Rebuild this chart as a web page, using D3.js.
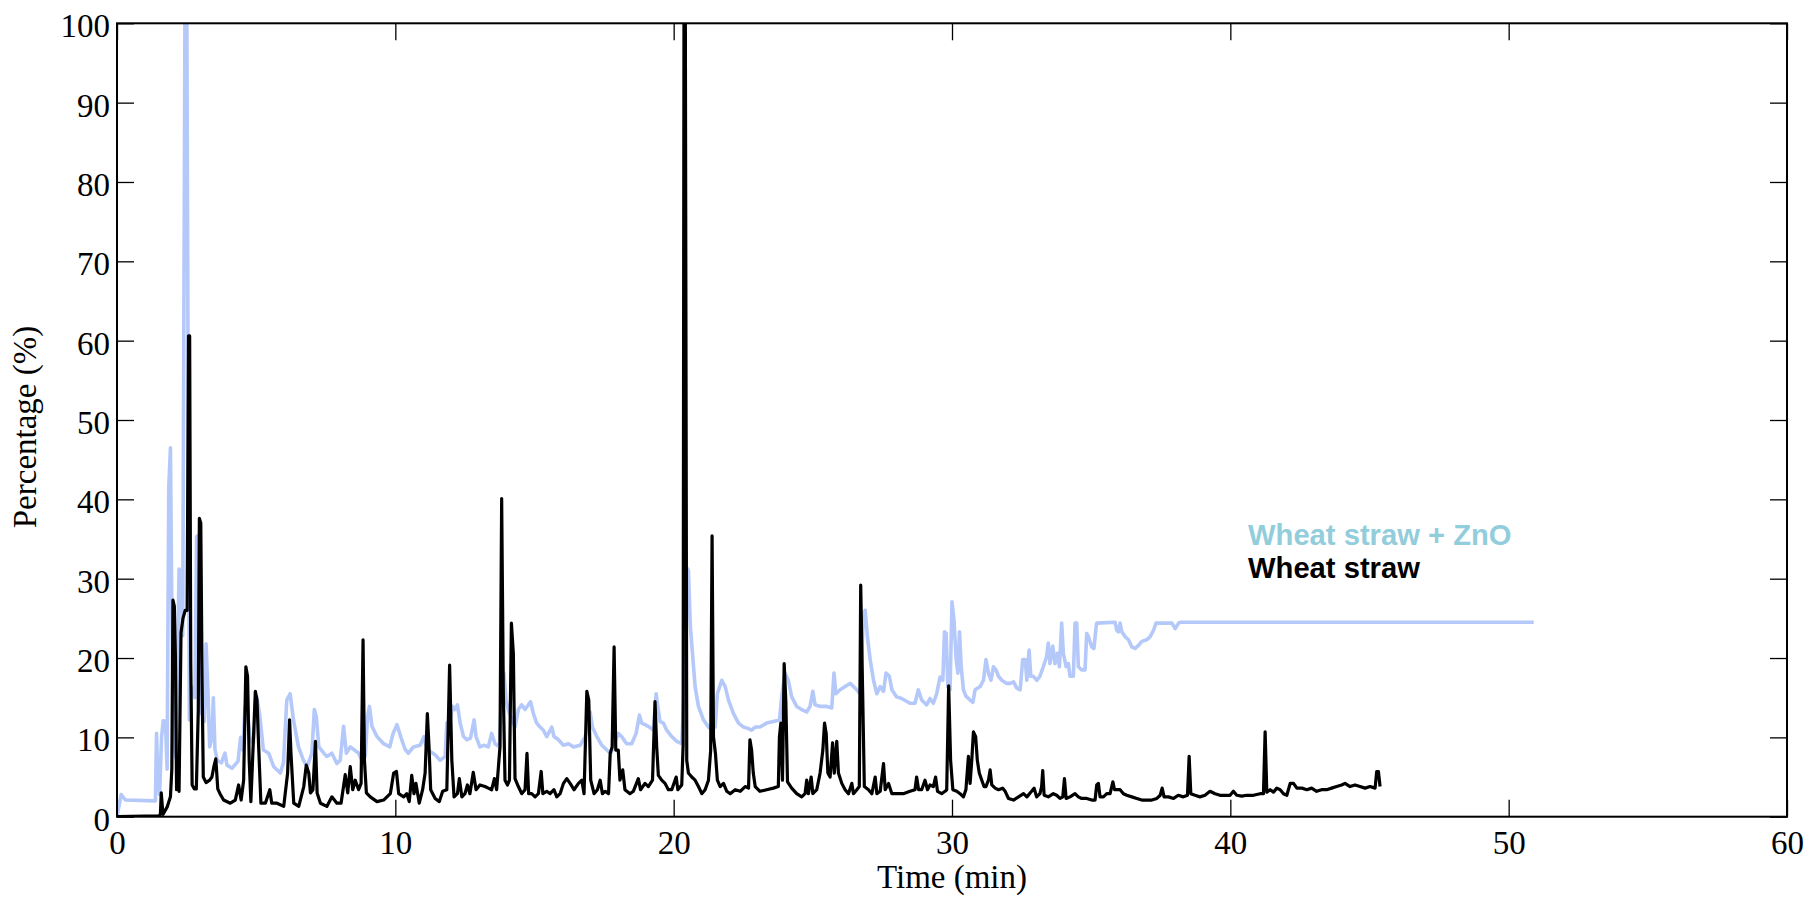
<!DOCTYPE html>
<html>
<head>
<meta charset="utf-8">
<script src="https://cdn.jsdelivr.net/npm/d3@7"></script>
<style>
  html, body { margin: 0; padding: 0; background: #fff; }
  svg { display: block; }
</style>
</head>
<body>
<svg id="chart" width="1811" height="900"></svg>
<script>
// Axis ticks
const xTicks = [0, 10, 20, 30, 40, 50, 60];
const yTicks = [0, 10, 20, 30, 40, 50, 60, 70, 80, 90, 100];

// Series labels
const seriesNames = ["Wheat straw + ZnO", "Wheat straw"];

// [time (min), percentage (%)] — Wheat straw + ZnO
const wheatStrawZnO = [
  [0,0],[0.15,2.8],[0.3,2.1],[1.38,2.0],[1.42,10.5],[1.47,4.5],[1.53,2.8],[1.6,10],[1.66,12.1],[1.74,12.0],
  [1.8,6],[1.86,41.5],[1.92,46.5],[1.97,26],[2.04,9.4],[2.12,7.4],[2.18,20],[2.23,31.2],[2.3,30.8],[2.36,22.8],
  [2.40,60],[2.44,100],[2.51,100],[2.55,60],[2.6,12.2],[2.66,16],[2.74,16.3],[2.8,15],[2.86,35.3],[2.93,35.5],
  [2.98,16],[3.03,13],[3.08,16.5],[3.14,12],[3.2,21.8],[3.27,15.5],[3.33,8.8],[3.41,10],[3.46,15],[3.52,8.5],
  [3.6,7.1],[3.75,6.8],[3.88,8],[3.95,6.5],[4.13,6.1],[4.35,7],[4.44,10],[4.52,8.4],[4.6,13.9],[4.7,12.5],
  [4.79,9.7],[4.9,9.2],[5.02,15.1],[5.12,13],[5.26,8.4],[5.45,8],[5.63,6.3],[5.87,5.5],[5.98,6.8],[6.1,14.7],
  [6.22,15.5],[6.34,12.2],[6.52,8.8],[6.7,7.1],[6.83,6.3],[7.0,8],[7.09,13.5],[7.16,12.6],[7.25,8.8],[7.43,8],
  [7.54,7.6],[7.72,8],[7.9,6.7],[8.02,7.1],[8.14,11.4],[8.24,8],[8.38,8.8],[8.53,8.4],[8.68,8],[8.8,7.1],
  [8.92,7.6],[9.0,12.6],[9.07,13.9],[9.16,11.4],[9.34,10.1],[9.58,9.2],[9.8,8.8],[9.92,10.5],[10.06,11.6],[10.2,10],
  [10.35,8.5],[10.47,8],[10.65,8.8],[10.89,9],[11.03,10.1],[11.1,9],[11.25,8.2],[11.43,7.8],[11.61,7.1],[11.79,7.6],
  [11.85,11.8],[11.97,12.2],[12.06,13.9],[12.14,13.5],[12.23,14.1],[12.33,11.8],[12.45,10.1],[12.57,9.7],[12.7,9.9],[12.83,12.2],
  [12.9,10.1],[13.04,8.8],[13.2,9.0],[13.34,8.8],[13.46,10.5],[13.58,9.2],[13.74,8.8],[13.82,16],[13.9,18.1],[13.98,14.7],
  [14.06,13.5],[14.18,12.2],[14.3,11.3],[14.42,13.5],[14.54,14.1],[14.66,13.5],[14.78,14.1],[14.86,14.5],[14.96,13],[15.08,11.8],
  [15.2,11.3],[15.32,10.9],[15.44,10.1],[15.62,11.3],[15.7,10.1],[15.86,9.7],[16.04,9.0],[16.22,9.2],[16.4,8.8],[16.64,9.0],
  [16.82,10.1],[16.9,11.3],[17.0,13.2],[17.08,11.3],[17.24,10.1],[17.42,9.0],[17.6,8.4],[17.74,8],[17.9,9.5],[18.01,10.5],
  [18.13,10.1],[18.31,9.2],[18.49,9.2],[18.65,10.5],[18.77,12.8],[18.85,11.8],[18.97,11.6],[19.13,11.3],[19.27,10.9],[19.37,15.5],
  [19.43,13.9],[19.51,12],[19.63,11.8],[19.75,10.9],[19.93,10.1],[20.11,9.5],[20.29,9.2],[20.37,15.6],[20.45,31.5],[20.53,31],
  [20.6,24],[20.67,20.8],[20.77,16.4],[20.89,13.9],[21.07,12.2],[21.25,11.3],[21.37,10.9],[21.49,11.3],[21.57,15.5],[21.73,17.2],
  [21.85,16.4],[21.97,14.7],[22.15,13],[22.33,11.8],[22.51,11.3],[22.69,11.1],[22.8,10.9],[22.93,11.3],[23.1,11.3],[23.34,11.8],
  [23.58,12],[23.8,12.2],[23.88,15.1],[24.0,18.1],[24.12,17.2],[24.24,15.1],[24.42,13.9],[24.6,13.5],[24.78,13.2],[24.9,13.9],
  [25.0,15.8],[25.08,14.1],[25.26,13.9],[25.5,13.9],[25.68,13.7],[25.76,18.1],[25.83,15.5],[25.98,16],[26.16,16.4],[26.34,16.8],
  [26.52,16.2],[26.7,15.5],[26.82,25.6],[26.88,26],[26.96,22.7],[27.06,19.8],[27.18,17.2],[27.3,15.5],[27.42,16.4],[27.54,15.8],
  [27.63,18.1],[27.75,17.7],[27.84,16],[28.01,15.1],[28.19,14.9],[28.49,14.3],[28.67,14.3],[28.79,16],[28.91,14.7],[29.09,14.1],
  [29.21,14.9],[29.33,14.3],[29.45,15.5],[29.57,17.6],[29.67,17.2],[29.73,23.3],[29.79,23.1],[29.85,16.4],[29.93,16],[30.0,27.1],
  [30.07,24.8],[30.15,19.8],[30.21,18.1],[30.27,23.3],[30.33,18.9],[30.41,16],[30.5,15.2],[30.65,14.7],[30.75,14.4],[30.83,16],
  [31.01,16.4],[31.13,17.2],[31.22,19.8],[31.31,18.1],[31.4,17.2],[31.49,18.9],[31.58,18.5],[31.67,17.7],[31.79,17.2],[31.97,16.8],
  [32.09,16.8],[32.21,17],[32.33,16.2],[32.45,16],[32.54,19.8],[32.63,19.8],[32.69,17.2],[32.77,21],[32.83,17.7],[32.92,17.7],
  [33.05,17.2],[33.16,17.7],[33.28,18.9],[33.4,20.2],[33.46,21.9],[33.52,19.3],[33.62,21.5],[33.7,19.3],[33.79,20.6],[33.86,18.9],
  [33.94,24.4],[34.0,20.6],[34.1,18.9],[34.18,19.3],[34.24,17.7],[34.36,17.7],[34.42,24.4],[34.48,24.4],[34.54,18.9],[34.66,18.5],
  [34.78,18.5],[34.84,23.1],[34.9,22.7],[35.02,21.4],[35.1,21.2],[35.18,24],[35.2,24.4],[35.86,24.5],[35.92,23.5],[35.98,23.3],
  [36.04,24.4],[36.1,23.3],[36.22,22.7],[36.34,22.3],[36.46,21.4],[36.58,21.2],[36.7,21.6],[36.82,22.1],[37.0,22.3],[37.12,22.7],
  [37.24,23.5],[37.33,24.4],[37.9,24.4],[38.02,23.7],[38.14,24.4],[38.2,24.5],[50.9,24.5]
];

// [time (min), percentage (%)] — Wheat straw
const wheatStraw = [
  [0,0],[1.5,0.1],[1.56,0.3],[1.59,3],[1.65,0.3],[1.8,1.2],[1.92,2.5],[1.97,6],[2.01,27.3],[2.06,26.5],
  [2.1,20],[2.14,3.4],[2.18,5.5],[2.23,3.2],[2.3,23.2],[2.37,25],[2.45,26],[2.52,26],[2.57,60.6],
  [2.61,60.6],[2.65,19.4],[2.7,4.0],[2.78,3.5],[2.85,3.5],[2.92,13.4],[2.96,37.6],[3.01,37],[3.06,16],[3.1,5],
  [3.2,4.3],[3.33,4.6],[3.41,5],[3.48,6.3],[3.55,7.3],[3.62,3.5],[3.7,2.9],[3.83,2.1],[4.07,1.7],[4.25,2.1],
  [4.37,4.0],[4.46,2.1],[4.55,4.6],[4.63,18.9],[4.69,17.7],[4.75,7.1],[4.81,1.9],[4.91,10.5],[4.97,15.8],[5.03,14.7],
  [5.09,8.8],[5.17,1.7],[5.33,1.7],[5.49,3.4],[5.56,1.7],[5.75,1.7],[5.99,1.3],[6.13,5.5],[6.2,12.2],[6.25,8],
  [6.35,1.7],[6.53,1.3],[6.71,3.8],[6.8,6.5],[6.89,5.5],[6.95,3],[7.04,3.4],[7.13,9.5],[7.19,3],[7.31,1.7],
  [7.54,1.3],[7.72,2.5],[7.9,1.7],[8.05,1.7],[8.2,5.3],[8.29,3],[8.38,6.3],[8.47,3.4],[8.56,4.6],[8.68,3.4],
  [8.77,4.2],[8.84,22.3],[8.89,7.1],[8.96,3],[9.1,2.5],[9.34,1.9],[9.58,2.1],[9.82,2.9],[9.94,5.5],[10.04,5.7],
  [10.12,2.9],[10.3,2.5],[10.41,2.9],[10.5,1.9],[10.59,5.2],[10.67,2.9],[10.74,4.2],[10.86,1.7],[10.98,3.4],[11.07,5.5],
  [11.15,13],[11.21,8.8],[11.27,3.4],[11.43,2.3],[11.58,1.9],[11.7,3.2],[11.85,3.4],[11.95,19.1],[12.03,7.1],[12.11,2.5],
  [12.23,2.9],[12.3,4.8],[12.39,2.5],[12.5,2.9],[12.59,4],[12.68,2.9],[12.8,5.6],[12.9,3.4],[13.04,4],[13.22,3.8],
  [13.34,3.6],[13.46,3.4],[13.56,4.8],[13.64,3.4],[13.76,8.8],[13.82,40.1],[13.88,15.6],[13.94,4.6],[14.03,4],[14.1,4.6],
  [14.17,24.4],[14.24,20.6],[14.3,4.8],[14.42,3.8],[14.54,2.9],[14.66,3.4],[14.73,8],[14.79,2.9],[14.9,2.9],[15.02,2.5],
  [15.14,2.9],[15.24,5.7],[15.3,2.9],[15.44,3.2],[15.56,2.9],[15.7,3.4],[15.8,2.5],[15.92,2.9],[16.04,4.2],[16.16,4.8],
  [16.28,4.2],[16.42,3.4],[16.58,4.2],[16.7,4.6],[16.78,2.9],[16.88,15.8],[16.95,14.7],[17.02,4.6],[17.14,2.9],[17.26,3.4],
  [17.36,4.6],[17.44,2.9],[17.54,3.2],[17.66,2.9],[17.72,8],[17.79,8.8],[17.86,21.4],[17.92,8.4],[18.01,8.4],[18.07,4.6],
  [18.17,5.9],[18.25,3.4],[18.43,2.9],[18.55,3.2],[18.73,4.8],[18.81,3.4],[18.97,4.2],[19.09,3.8],[19.24,4.6],[19.33,14.5],
  [19.39,8.8],[19.45,5.2],[19.57,4.6],[19.69,4.2],[19.81,3.4],[19.93,3.4],[20.09,5],[20.15,3.4],[20.29,4],[20.34,9],
  [20.37,100],[20.42,100],[20.47,7.1],[20.53,5.5],[20.65,5.0],[20.77,4.6],[20.89,3.8],[21.01,2.9],[21.13,3.4],[21.25,4.6],
  [21.33,8.4],[21.38,35.4],[21.43,10.1],[21.5,8],[21.57,4.6],[21.67,3.8],[21.79,4.2],[21.91,3.2],[22.03,2.9],[22.21,3.4],
  [22.39,3.2],[22.57,3.8],[22.69,3.6],[22.74,9.7],[22.8,8.4],[22.86,5.5],[22.93,3.8],[23.1,3.2],[23.34,3.4],[23.58,3.6],
  [23.76,3.8],[23.8,10.1],[23.85,11.8],[23.91,4.6],[23.97,19.3],[24.03,14.5],[24.09,4.4],[24.24,3.6],[24.42,2.9],[24.6,2.5],
  [24.72,2.9],[24.78,4.6],[24.84,2.9],[24.94,5],[25.0,2.9],[25.14,3.4],[25.26,5.5],[25.36,8.4],[25.42,11.8],[25.48,10.5],
  [25.54,5.5],[25.62,5],[25.71,9.3],[25.77,5.5],[25.86,9.5],[25.92,5.5],[26.04,4.2],[26.16,3.4],[26.28,2.9],[26.4,4.2],
  [26.46,2.9],[26.58,3.4],[26.67,3.8],[26.72,29.2],[26.79,15.6],[26.85,3.8],[27.0,3.4],[27.12,2.9],[27.24,5],[27.3,2.9],
  [27.42,3.2],[27.54,6.7],[27.6,3.4],[27.72,4.2],[27.84,2.9],[28.01,2.9],[28.25,2.9],[28.49,3.2],[28.67,3.4],[28.73,5],
  [28.8,3.4],[28.91,3.4],[29.03,4.6],[29.12,3.4],[29.21,4],[29.33,3.8],[29.41,5],[29.48,3.2],[29.63,2.9],[29.75,3.2],
  [29.81,3.4],[29.88,16.5],[29.95,7.1],[30.03,3.4],[30.17,3.2],[30.29,2.9],[30.41,2.5],[30.5,3.4],[30.59,7.6],[30.65,4.2],
  [30.71,7.1],[30.77,10.7],[30.85,10.1],[30.91,7.1],[30.98,5.5],[31.07,4.6],[31.15,3.8],[31.22,3.8],[31.31,4.6],[31.37,5.9],
  [31.43,4],[31.55,3.6],[31.67,3.4],[31.82,3.6],[31.91,3.2],[32.03,2.3],[32.21,2.1],[32.39,2.5],[32.57,2.9],[32.69,2.5],
  [32.86,3.2],[32.95,3.6],[33.04,2.5],[33.16,2.9],[33.22,3.8],[33.26,5.8],[33.31,2.7],[33.46,2.5],[33.64,2.9],[33.76,2.7],
  [33.88,2.3],[33.98,2.5],[34.04,4.8],[34.1,2.3],[34.24,2.5],[34.42,2.9],[34.54,2.5],[34.66,2.3],[34.84,2.3],[35.02,2.1],
  [35.14,2.1],[35.2,4.0],[35.26,4.2],[35.32,2.5],[35.44,2.5],[35.56,2.9],[35.68,2.9],[35.78,4.4],[35.84,3.4],[35.92,3.4],
  [36.04,3.4],[36.16,2.9],[36.28,2.7],[36.46,2.5],[36.64,2.3],[36.82,2.1],[37.0,2.1],[37.18,2.1],[37.36,2.3],[37.48,2.7],
  [37.55,3.6],[37.62,2.5],[37.78,2.5],[37.96,2.3],[38.13,2.7],[38.31,2.5],[38.46,2.7],[38.52,7.6],[38.58,2.9],[38.73,2.7],
  [38.91,2.5],[39.09,2.7],[39.27,3.2],[39.45,2.9],[39.63,2.7],[39.81,2.7],[39.99,2.7],[40.11,3.2],[40.23,2.7],[40.41,2.6],
  [40.59,2.7],[40.83,2.7],[41.07,2.9],[41.19,2.9],[41.25,10.7],[41.31,3.1],[41.43,3.4],[41.55,3.1],[41.67,3.6],[41.79,3.4],
  [41.91,2.9],[42.03,2.7],[42.15,4.2],[42.27,4.2],[42.39,3.6],[42.57,3.6],[42.75,3.4],[42.92,3.6],[43.1,3.2],[43.28,3.4],
  [43.46,3.4],[43.64,3.6],[43.82,3.8],[44.0,4.0],[44.12,4.2],[44.3,3.8],[44.48,4.0],[44.66,3.8],[44.84,3.6],[45.02,3.8],
  [45.2,3.6],[45.26,5.7],[45.32,5.7],[45.38,3.8]
];

const W = 1811, H = 900;
const margin = { left: 117, right: 1811 - 1787, top: 23.3, bottom: 900 - 816.7 };
const plotW = W - margin.left - margin.right;
const plotH = H - margin.top - margin.bottom;

const svg = d3.select("#chart");
const g = svg.append("g").attr("transform", `translate(${margin.left},${margin.top})`);

const x = d3.scaleLinear().domain([0, 60]).range([0, plotW]);
const y = d3.scaleLinear().domain([0, 100]).range([plotH, 0]);

svg.append("defs").append("clipPath").attr("id", "plotClip")
  .append("rect").attr("x", 0).attr("y", 0).attr("width", plotW).attr("height", plotH);

const serif = "'Liberation Serif', 'Times New Roman', serif";
const tickLen = 17;

// Inward ticks on all four sides
const axisStyle = sel => {
  sel.select(".domain").remove();
  sel.selectAll(".tick line").attr("stroke", "#000").attr("stroke-width", 1.3);
  sel.selectAll(".tick text").attr("font-family", serif).attr("font-size", 33).attr("fill", "#000");
};

g.append("g").attr("transform", `translate(0,${plotH})`)
  .call(d3.axisBottom(x).tickValues(xTicks).tickSize(-tickLen).tickPadding(18).tickFormat(d3.format("d")))
  .call(axisStyle)
  .call(s => s.selectAll(".tick text").attr("dy", "0.71em").attr("y", 14));

g.append("g")
  .call(d3.axisTop(x).tickValues(xTicks).tickSize(-tickLen).tickFormat(""))
  .call(axisStyle);

g.append("g")
  .call(d3.axisLeft(y).tickValues(yTicks).tickSize(-tickLen).tickFormat(d3.format("d")))
  .call(axisStyle)
  .call(s => s.selectAll(".tick text").attr("x", -7).attr("dy", 13.4));

g.append("g").attr("transform", `translate(${plotW},0)`)
  .call(d3.axisRight(y).tickValues(yTicks).tickSize(-tickLen).tickFormat(""))
  .call(axisStyle);

// Traces
const line = d3.line().x(d => x(d[0])).y(d => y(d[1]));
const traces = g.append("g").attr("clip-path", "url(#plotClip)");

traces.append("path").datum(wheatStrawZnO)
  .attr("d", line).attr("fill", "none")
  .attr("stroke", "#b4c8fa").attr("stroke-width", 3.6)
  .attr("stroke-linejoin", "round");

traces.append("path").datum(wheatStraw)
  .attr("d", line).attr("fill", "none")
  .attr("stroke", "#000").attr("stroke-width", 3.2)
  .attr("stroke-linejoin", "round");

// Frame
g.append("rect").attr("x", 0).attr("y", 0).attr("width", plotW).attr("height", plotH)
  .attr("fill", "none").attr("stroke", "#000").attr("stroke-width", 2);

// Axis titles
svg.append("text")
  .attr("x", margin.left + plotW / 2).attr("y", 888)
  .attr("text-anchor", "middle")
  .attr("font-family", serif).attr("font-size", 33)
  .text("Time (min)");

svg.append("text")
  .attr("transform", `translate(36,427) rotate(-90)`)
  .attr("text-anchor", "middle")
  .attr("font-family", serif).attr("font-size", 33)
  .text("Percentage (%)");

// Legend text
const legendColors = ["#92cddc", "#000000"];
svg.selectAll("text.legend").data(seriesNames).join("text")
  .attr("class", "legend")
  .attr("x", 1248).attr("y", (d, i) => 545 + i * 32.5)
  .attr("font-family", "'Liberation Sans', Arial, sans-serif")
  .attr("font-weight", "bold").attr("font-size", 29.2)
  .attr("fill", (d, i) => legendColors[i])
  .text(d => d);
</script>
</body>
</html>
